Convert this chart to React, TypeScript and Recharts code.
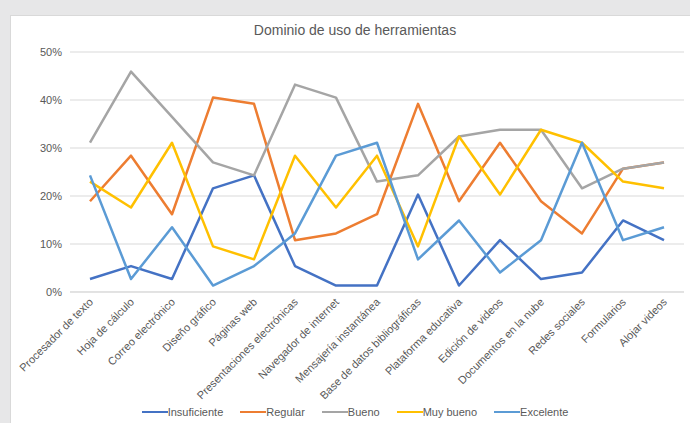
import React from 'react';
import { LineChart, Line, XAxis, YAxis, CartesianGrid, Legend } from 'recharts';

const categories = [
  'Procesador de texto',
  'Hoja de cálculo',
  'Correo electrónico',
  'Diseño gráfico',
  'Páginas web',
  'Presentaciones electrónicas',
  'Navegador de internet',
  'Mensajería instantánea',
  'Base de datos bibliográficas',
  'Plataforma educativa',
  'Edición de videos',
  'Documentos en la nube',
  'Redes sociales',
  'Formularios',
  'Alojar videos',
];

const insuficiente = [2.7, 5.4, 2.7, 21.6, 24.3, 5.4, 1.35, 1.35, 20.3, 1.35, 10.8, 2.7, 4.05, 14.9, 10.8];
const regular = [18.9, 28.4, 16.2, 40.5, 39.2, 10.8, 12.2, 16.2, 39.2, 18.9, 31.1, 18.9, 12.2, 25.7, 27.0];
const bueno = [31.1, 45.9, 36.5, 27.0, 24.3, 43.2, 40.5, 23.0, 24.3, 32.4, 33.8, 33.8, 21.6, 25.7, 27.0];
const muyBueno = [23.0, 17.6, 31.1, 9.5, 6.8, 28.4, 17.6, 28.4, 9.5, 32.4, 20.3, 33.8, 31.1, 23.0, 21.6];
const excelente = [24.3, 2.7, 13.5, 1.35, 5.4, 12.2, 28.4, 31.1, 6.8, 14.9, 4.05, 10.8, 31.1, 10.8, 13.5];

const yTicks = [0, 10, 20, 30, 40, 50];
const title = 'Dominio de uso de herramientas';

const seriesNames = ['Insuficiente', 'Regular', 'Bueno', 'Muy bueno', 'Excelente'];
const seriesValues = [insuficiente, regular, bueno, muyBueno, excelente];
const seriesColors = ['#4472C4', '#ED7D31', '#A5A5A5', '#FFC000', '#5B9BD5'];

const data = categories.map((c, i) => {
  const row: Record<string, any> = { name: c };
  seriesNames.forEach((s, k) => {
    row[s] = seriesValues[k][i];
  });
  return row;
});

const FONT = '"Liberation Sans", Arial, sans-serif';
const TEXT = '#595959';

const XTick = (props: any) => {
  const { x, y, payload } = props;
  return (
    <g transform={`translate(${x + 1},${y + 8})`}>
      <text
        x={0}
        y={0}
        dy="0.35em"
        textAnchor="end"
        fill={TEXT}
        fontSize={11}
        fontFamily={FONT}
        transform="rotate(-45)"
      >
        {payload.value}
      </text>
    </g>
  );
};

const LegendContent = () => (
  <div
    style={{
      display: 'flex',
      justifyContent: 'center',
      gap: 17,
      fontSize: 11,
      lineHeight: '14px',
      color: TEXT,
      fontFamily: FONT,
    }}
  >
    {seriesNames.map((s, k) => (
      <div key={s} style={{ display: 'flex', alignItems: 'center' }}>
        <span style={{ display: 'inline-block', width: 26, height: 2.5, background: seriesColors[k] }} />
        <span>{s}</span>
      </div>
    ))}
  </div>
);

export default function App() {
  return (
    <div
      style={{
        position: 'absolute',
        left: 0,
        top: 0,
        width: 690,
        height: 423,
        background: '#e7e7e8',
        overflow: 'hidden',
      }}
    >
      <div
        style={{
          position: 'absolute',
          left: 10,
          top: 15,
          width: 700,
          height: 420,
          background: '#ffffff',
          border: '1px solid #d9d9d9',
        }}
      />
      <div
        style={{
          position: 'absolute',
          left: 10,
          top: 21,
          width: 690,
          textAlign: 'center',
          fontFamily: FONT,
          fontSize: 14,
          lineHeight: '18px',
          color: TEXT,
        }}
      >
        {title}
      </div>
      <div style={{ position: 'absolute', left: 0, top: 0 }}>
        <LineChart width={690} height={423} data={data} margin={{ top: 52, right: 6, left: 10, bottom: 0 }}>
          <CartesianGrid vertical={false} stroke="#d9d9d9" strokeWidth={1} />
          <XAxis
            dataKey="name"
            interval={0}
            height={131}
            padding={{ left: 20, right: 20 }}
            axisLine={{ stroke: '#d9d9d9' }}
            tickLine={false}
            tickSize={0}
            tickMargin={0}
            tick={<XTick />}
          />
          <YAxis
            domain={[0, 50]}
            ticks={yTicks}
            width={60}
            axisLine={false}
            tickLine={false}
            tickSize={0}
            tickMargin={8}
            tickFormatter={(v: number) => `${v}%`}
            tick={{ fill: TEXT, fontSize: 11, fontFamily: FONT }}
          />
          <Legend
            verticalAlign="middle"
            align="center"
            layout="horizontal"
            wrapperStyle={{ top: 405, left: 10, width: 690 }}
            content={<LegendContent />}
          />
          {seriesNames.map((s, k) => (
            <Line
              key={s}
              type="linear"
              dataKey={s}
              stroke={seriesColors[k]}
              strokeWidth={2.5}
              dot={false}
              activeDot={false}
              strokeLinejoin="round"
              isAnimationActive={false}
            />
          ))}
        </LineChart>
      </div>
    </div>
  );
}
